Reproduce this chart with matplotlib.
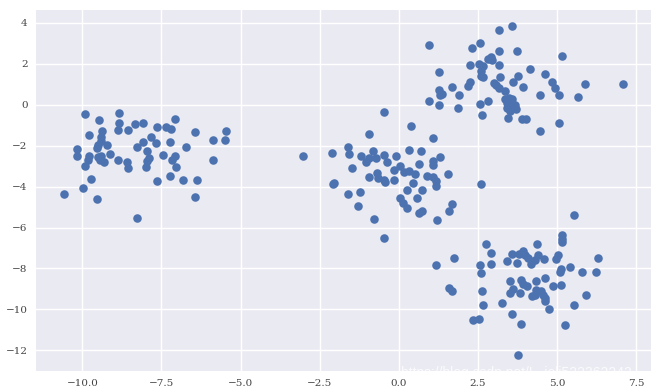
import numpy as np
import matplotlib.pyplot as plt

# blob 1 (left)
x1 = [-9.90, -8.84, -9.46, -8.84, -8.34, -8.09, -9.39, -8.87, -8.55, -9.80,
      -9.42, -9.41, -9.50, -9.22, -9.53, -8.08, -8.27, -10.16, -9.11, -7.95,
      -10.18, -9.79, -9.52, -9.42, -9.82, -9.32, -9.45, -8.87, -8.59, -8.55,
      -9.90, -8.00, -9.71, -9.98, -10.58, -9.55, -8.28, -7.08, -7.65, -7.36,
      -7.19, -6.44, -5.45, -7.84, -7.67, -7.23, -5.87, -5.49, -6.72, -7.44,
      -7.08, -7.16, -5.87, -7.90, -7.95, -7.05, -7.23, -7.65, -6.81, -6.37,
      -6.44]
y1 = [-0.45, -0.38, -0.76, -0.88, -0.93, -0.88, -1.26, -1.21, -1.21, -1.47,
      -1.57, -1.78, -1.95, -1.95, -2.11, -1.81, -2.08, -2.16, -2.39, -2.28,
      -2.52, -2.49, -2.55, -2.52, -2.72, -2.80, -2.68, -2.72, -2.82, -3.11,
      -2.98, -3.06, -3.61, -4.08, -4.36, -4.61, -5.53, -0.71, -1.09, -1.09,
      -1.16, -1.31, -1.26, -1.57, -1.86, -1.81, -1.70, -1.70, -2.08, -2.44,
      -2.52, -2.68, -2.68, -2.60, -2.77, -3.06, -3.49, -3.75, -3.70, -3.70,
      -4.52]

# blob 2 (middle)
x2 = [-3.04, -0.93, -1.62, -2.11, -1.59, -1.21, -0.93, -1.04, -0.83, -1.48,
      -0.93, -2.09, -2.04, -1.62, -1.24, -1.28, -0.78, -0.48, 0.39, 1.09,
      -0.72, -0.46, -0.09, 0.31, 0.70, 1.30, -0.37, 1.07, 1.09, 0.63,
      0.05, -0.17, 0.17, 0.33, 0.52, -0.70, -0.67, -0.46, -0.43, -0.14,
      0.88, 1.09, 1.54, 1.18, 1.16, 0.46, 0.26, 0.73, 0.02, 0.58,
      0.12, 0.26, 1.68, 1.57, 0.65, 0.73, 1.20, -0.48, 2.58]
y2 = [-2.50, -1.45, -2.06, -2.34, -2.40, -2.50, -2.60, -2.80, -2.24, -3.09,
      -3.52, -3.87, -3.80, -4.34, -4.25, -4.94, -5.59, -0.33, -1.04, -1.62,
      -2.60, -2.47, -2.49, -2.23, -2.28, -2.55, -2.82, -2.77, -2.93, -2.88,
      -3.01, -3.21, -3.29, -3.26, -3.39, -3.34, -3.59, -3.67, -3.78, -3.70,
      -3.46, -3.51, -3.37, -3.75, -3.95, -3.80, -4.16, -4.16, -4.57, -4.57,
      -4.82, -5.06, -4.85, -5.18, -5.28, -5.18, -5.64, -6.51, -3.87]

# blob 3 (top right)
x3 = [3.15, 3.57, 0.96, 2.30, 2.56, 3.15, 3.73, 2.81, 2.92, 2.95,
      2.23, 2.53, 2.65, 3.15, 4.13, 1.26, 2.60, 2.58, 2.65, 3.18,
      3.77, 1.68, 2.23, 2.18, 2.99, 3.08, 3.60, 3.92, 1.26, 1.31,
      1.35, 1.91, 3.15, 3.34, 0.96, 1.27, 2.55, 2.83, 3.34, 3.47,
      3.58, 3.41, 3.55, 3.66, 3.41, 3.71, 3.50, 1.86, 2.62, 3.44,
      3.90, 4.03, 5.15, 4.60, 4.85, 4.92, 5.06, 5.89, 7.08, 4.45,
      5.66, 5.06, 4.45]
y3 = [3.64, 3.83, 2.92, 2.77, 3.03, 2.65, 2.65, 2.24, 2.33, 2.19,
      1.95, 2.00, 1.88, 1.95, 1.75, 1.62, 1.64, 1.42, 1.34, 1.34,
      1.40, 0.88, 1.09, 0.93, 1.06, 0.96, 1.12, 0.85, 0.71, 0.48,
      0.55, 0.47, 0.81, 0.68, 0.19, -0.01, 0.06, 0.19, 0.27, 0.35,
      0.27, 0.11, 0.06, -0.01, -0.14, -0.22, -0.31, -0.17, -0.50, -0.67,
      -0.71, -0.71, 2.37, 1.50, 1.09, 0.81, 0.47, 1.01, 1.01, 0.47,
      0.40, -0.88, -1.26]

# blob 4 (bottom right)
x4 = [2.76, 2.90, 3.58, 1.75, 1.16, 2.55, 2.90, 3.41, 2.58, 3.52,
      1.58, 1.68, 2.62, 3.52, 2.65, 3.25, 3.58, 2.34, 2.53, 5.54,
      5.15, 5.16, 5.15, 4.36, 3.78, 3.92, 3.99, 4.08, 4.39, 4.31,
      4.58, 5.03, 4.97, 3.74, 4.16, 6.29, 5.40, 5.13, 5.08, 5.78,
      6.21, 3.87, 3.92, 4.34, 4.60, 4.87, 5.11, 4.06, 3.60, 3.84,
      4.34, 4.29, 4.50, 4.55, 4.60, 4.20, 5.92, 4.63, 4.74, 5.54,
      3.87, 5.24, 3.76]
y4 = [-6.79, -7.23, -7.28, -7.50, -7.81, -7.81, -7.77, -7.66, -8.22, -8.63,
      -8.96, -9.12, -9.12, -9.20, -9.78, -9.71, -10.21, -10.53, -10.48, -5.38,
      -6.38, -6.54, -6.71, -6.79, -7.28, -7.15, -7.36, -7.48, -7.36, -7.58,
      -7.56, -7.32, -7.56, -7.72, -7.77, -7.50, -7.94, -8.02, -8.19, -8.15,
      -8.19, -8.56, -8.76, -8.60, -8.46, -8.84, -8.79, -8.84, -9.00, -9.22,
      -9.05, -9.29, -9.12, -9.30, -9.45, -9.37, -9.29, -9.58, -9.99, -9.78,
      -10.70, -10.76, -12.21]

X = np.array(x1 + x2 + x3 + x4)
Y = np.array(y1 + y2 + y3 + y4)

fig = plt.figure(figsize=(6.64, 3.91), dpi=100)
ax = fig.add_axes([36/664, 20/391, 615/664, 361/391])
ax.set_facecolor('#EAEAF2')
ax.grid(True, color='white', linewidth=1)
ax.set_axisbelow(True)
for s in ax.spines.values():
    s.set_visible(False)

ax.scatter(X, Y, s=38, color='#4C72B0', linewidths=0)

ax.set_xticks([-10.0, -7.5, -5.0, -2.5, 0.0, 2.5, 5.0, 7.5])
ax.set_yticks([4, 2, 0, -2, -4, -6, -8, -10, -12])
ax.tick_params(length=0, pad=6, labelsize=7.5, labelcolor='#444444')
for lab in ax.get_xticklabels() + ax.get_yticklabels():
    lab.set_family('DejaVu Serif')

# watermark
fig.text(0.604, 0.046, 'https://blog.csdn.net/L_ioli522362242', fontsize=10,
         family='Liberation Sans', color='white', alpha=0.8,
         va='center', ha='left')

plt.savefig('out.png')
